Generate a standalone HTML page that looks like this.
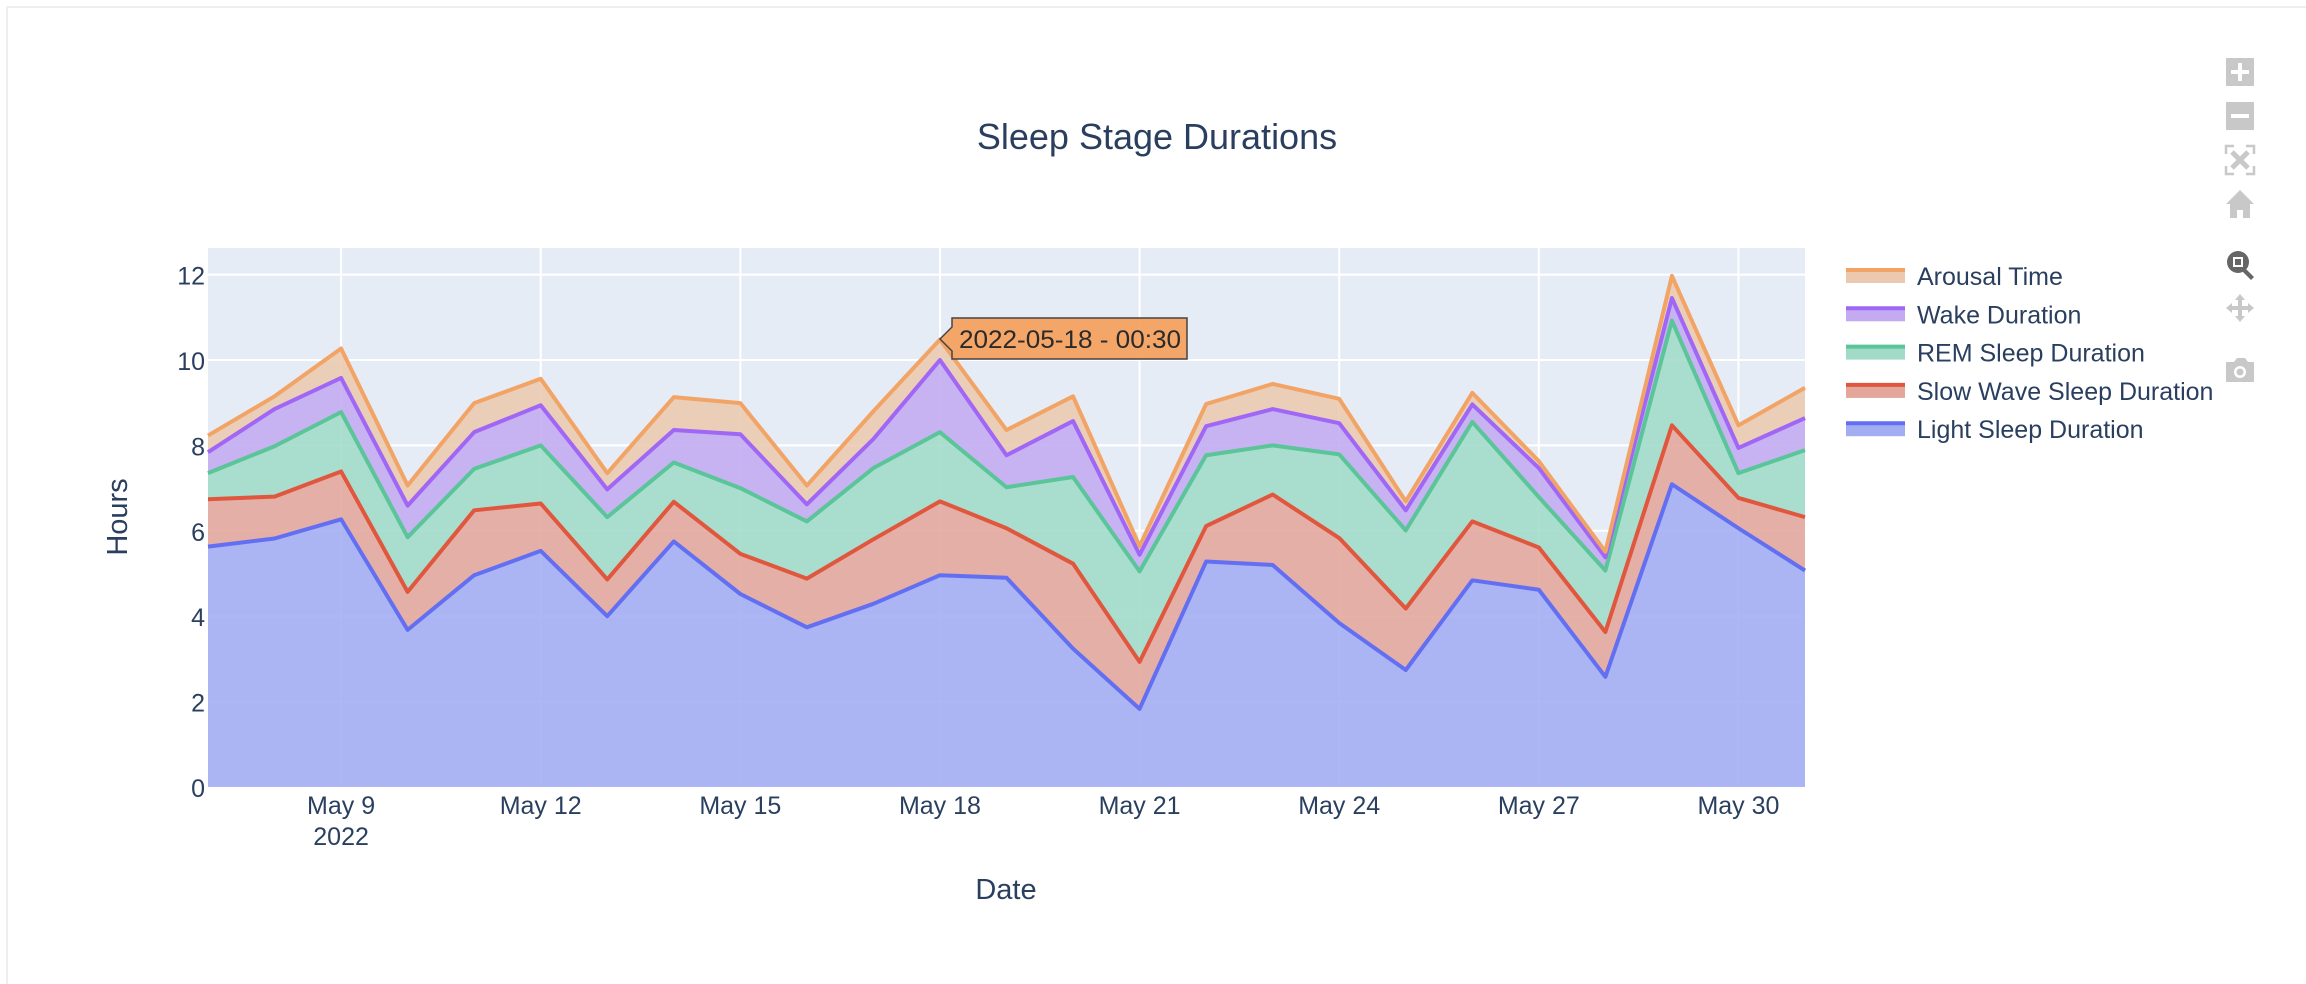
<!DOCTYPE html>
<html><head><meta charset="utf-8"><style>
body{margin:0;background:#fff;}
svg{display:block;font-family:"Liberation Sans",sans-serif;}
</style></head><body>
<svg id="chart" width="2306" height="984" viewBox="0 0 2306 984" xmlns="http://www.w3.org/2000/svg">
<rect x="0" y="0" width="2306" height="984" fill="#fff"/>
<line x1="7" y1="7" x2="2306" y2="7" stroke="#eeeeee" stroke-width="2"/>
<line x1="7" y1="7" x2="7" y2="984" stroke="#eeeeee" stroke-width="2"/>
<text x="1157" y="149" font-size="36" fill="#2a3f5f" text-anchor="middle">Sleep Stage Durations</text>
<rect x="208" y="248" width="1597" height="539" fill="#E5ECF6"/>
<g id="grid"></g><g id="areas"></g><g id="lines"></g><g id="axes"></g>
<text x="1006" y="899" font-size="29" fill="#2a3f5f" text-anchor="middle">Date</text>
<text transform="translate(127,517) rotate(-90)" font-size="29" fill="#2a3f5f" text-anchor="middle">Hours</text>
<g id="legend"></g>
<g>
<path d="M940,339 L952,327 L952,318 L1187,318 L1187,359 L952,359 L952,351 Z" fill="#f4a261" fill-opacity="0.95" stroke="#444" stroke-width="1.5"/>
<text x="959" y="348" font-size="25" fill="#2a2a2a" textLength="222" lengthAdjust="spacingAndGlyphs">2022-05-18 - 00:30</text>
</g>
<g fill="#c8c8c8">
<g><rect x="2226" y="58" width="28" height="28"/><rect x="2231" y="70" width="18" height="4" fill="#fff"/><rect x="2238" y="63" width="4" height="18" fill="#fff"/></g>
<g><rect x="2226" y="102" width="28" height="28"/><rect x="2231" y="114" width="18" height="4" fill="#fff"/></g>
<g stroke="#c8c8c8" stroke-width="2.5" fill="none"><path d="M2226,154v-8h8M2246,146h8v8M2254,166v8h-8M2234,174h-8v-8"/><path d="M2232,152l16,16M2248,152l-16,16" stroke-width="5"/></g>
<g><path d="M2240,190 L2226,204 L2230,204 L2230,218 L2237,218 L2237,210 L2243,210 L2243,218 L2250,218 L2250,204 L2254,204 Z"/></g>
<g fill="#666"><circle cx="2238" cy="262" r="11"/><rect x="2233" y="257" width="10" height="10" fill="#fff"/><rect x="2235" y="259" width="6" height="6" fill="#666"/><path d="M2245,268 l9,9 l-3,3 l-9,-9z"/></g>
<g><path d="M2240,294 l5,6 h-3 v6 h6 v-3 l6,5 l-6,5 v-3 h-6 v6 h3 l-5,6 l-5,-6 h3 v-6 h-6 v3 l-6,-5 l6,-5 v3 h6 v-6 h-3z"/></g>
<g><path d="M2226,362 h8 l3,-4 h8 l3,4 h6 v20 h-28z"/><circle cx="2240" cy="372" r="6" fill="#fff"/><circle cx="2240" cy="372" r="3.5"/></g>
</g>
</svg>
<script>
const dates = ["May 7","May 8","May 9","May 10","May 11","May 12","May 13","May 14","May 15","May 16","May 17","May 18","May 19","May 20","May 21","May 22","May 23","May 24","May 25","May 26","May 27","May 28","May 29","May 30","May 31"];
const lightSleep = [5.63,5.82,6.27,3.68,4.96,5.53,4.0,5.75,4.52,3.74,4.29,4.96,4.9,3.24,1.83,5.28,5.2,3.84,2.74,4.84,4.62,2.58,7.09,6.06,5.07];
const slowWaveSleep = [1.11,0.98,1.12,0.89,1.52,1.11,0.86,0.93,0.94,1.14,1.51,1.73,1.16,1.99,1.10,0.83,1.65,1.99,1.44,1.38,0.99,1.05,1.38,0.71,1.25];
const remSleep = [0.61,1.18,1.39,1.28,0.97,1.36,1.46,0.92,1.54,1.34,1.67,1.62,0.96,2.03,2.12,1.66,1.15,1.96,1.83,2.33,1.18,1.44,2.45,0.58,1.57];
const wakeDuration = [0.49,0.87,0.80,0.74,0.86,0.94,0.65,0.76,1.26,0.40,0.68,1.69,0.75,1.31,0.39,0.68,0.85,0.73,0.47,0.41,0.68,0.31,0.53,0.59,0.75];
const arousalTime = [0.39,0.30,0.69,0.47,0.68,0.62,0.38,0.77,0.73,0.44,0.65,0.48,0.59,0.58,0.20,0.52,0.59,0.57,0.21,0.27,0.16,0.13,0.52,0.53,0.71];
const yTicks = [0,2,4,6,8,10,12];
const xTickIdx = [2,5,8,11,14,17,20,23];
const xTickLabels = ["May 9","May 12","May 15","May 18","May 21","May 24","May 27","May 30"];

const NS="http://www.w3.org/2000/svg";
const L=208,R=1805,T=248,B=787;
const xS=i=>L+(R-L)*i/(dates.length-1);
const yS=v=>B-v*42.7;
function mk(tag,attrs,parent){const e=document.createElementNS(NS,tag);for(const k in attrs)e.setAttribute(k,attrs[k]);parent.appendChild(e);return e;}
const grid=document.getElementById('grid'),axes=document.getElementById('axes');
yTicks.forEach(v=>{
  const g=mk('line',{x1:L,x2:R,y1:yS(v),y2:yS(v),stroke:'#fff','stroke-width':2},grid);
  
  
  const t=mk('text',{x:L-3,y:yS(v)+10,'font-size':25,fill:'#2a3f5f','text-anchor':'end'},axes);
  
  
  t.textContent=v;
});
xTickIdx.forEach((i,k)=>{
  const g=mk('line',{x1:xS(i),x2:xS(i),y1:T,y2:B,stroke:'#fff','stroke-width':2},grid);
  
  
  const t=mk('text',{x:xS(i),y:814,'font-size':25,fill:'#2a3f5f','text-anchor':'middle'},axes);
  
  
  t.textContent=xTickLabels[k];
});
const yr=mk('text',{x:xS(2),y:845,'font-size':25,fill:'#2a3f5f','text-anchor':'middle'},axes);


yr.textContent='2022';

const series=[
 {name:'Light Sleep Duration',vals:lightSleep,color:'#636ff2',fill:'#a3adf2',key:'light-sleep'},
 {name:'Slow Wave Sleep Duration',vals:slowWaveSleep,color:'#e0573e',fill:'#e4a69b',key:'slow-wave-sleep'},
 {name:'REM Sleep Duration',vals:remSleep,color:'#5ac598',fill:'#a1dbc8',key:'rem-sleep'},
 {name:'Wake Duration',vals:wakeDuration,color:'#a066f5',fill:'#c3aaf1',key:'wake'},
 {name:'Arousal Time',vals:arousalTime,color:'#f2a466',fill:'#ecc9ae',key:'arousal'}
];
const areas=document.getElementById('areas'),lines=document.getElementById('lines');
let base=dates.map(()=>0);
series.forEach(s=>{
  const top=base.map((b,i)=>b+s.vals[i]);
  const up=top.map((v,i)=>xS(i)+','+yS(v));
  const down=base.map((v,i)=>xS(i)+','+yS(v)).reverse();
  const a=mk('polygon',{points:up.concat(down).join(' '),fill:s.fill,'fill-opacity':0.88},areas);
  
  
  const l=mk('polyline',{points:up.join(' '),fill:'none',stroke:s.color,'stroke-width':4,'stroke-linejoin':'round'},lines);
  
  
  base=top;
});
const leg=document.getElementById('legend');
const legOrder=[...series].reverse();
legOrder.forEach((s,k)=>{
  const y=276+k*38.3;
  const g=mk('g',{},leg);
  
  
  mk('rect',{x:1846,y:y-7,width:59,height:14,fill:s.fill},g);
  mk('line',{x1:1846,x2:1905,y1:y-6,y2:y-6,stroke:s.color,'stroke-width':4},g);
  const t=mk('text',{x:1917,y:y+9,'font-size':25,fill:'#2a3f5f'},g);
  t.textContent=s.name;
});
</script>
</body></html>
